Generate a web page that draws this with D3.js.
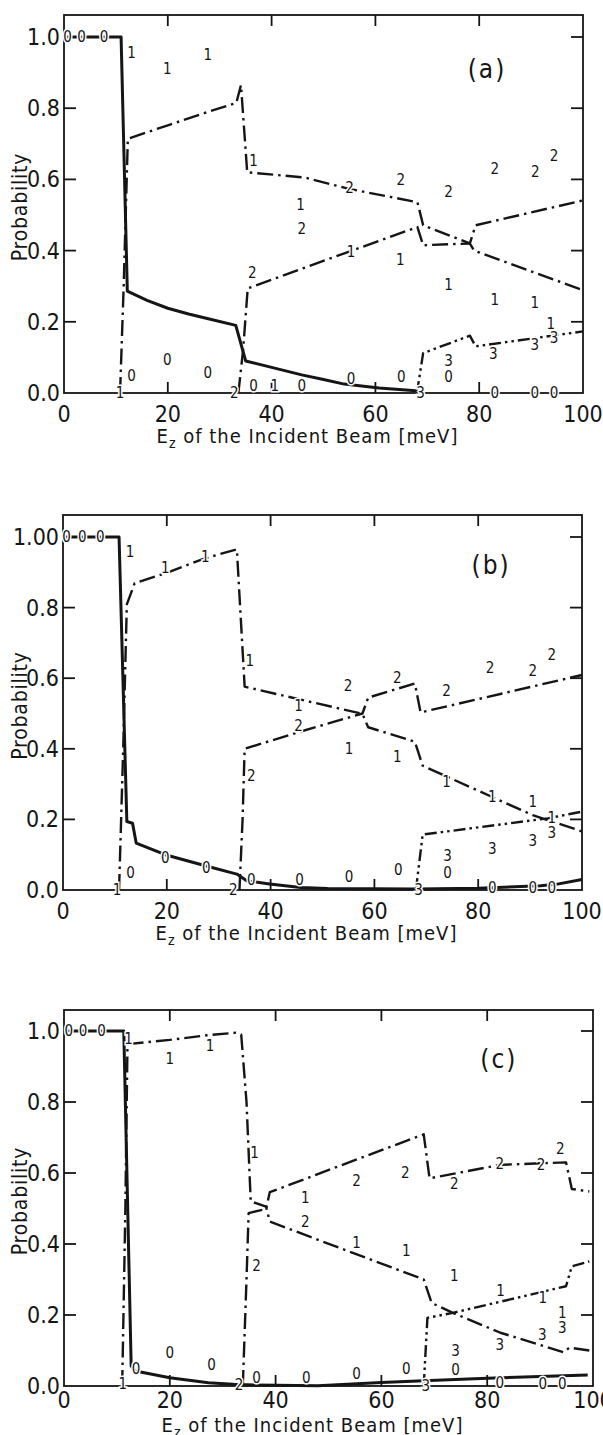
<!DOCTYPE html>
<html><head><meta charset="utf-8">
<script src="https://cdn.jsdelivr.net/npm/d3@7"></script>
<style>
body{margin:0;background:#fff;}
svg{display:block;background:#fff;}
text{font-family:'Liberation Sans Narrow','DejaVu Sans Condensed','Liberation Sans',sans-serif;fill:#151515;}
</style></head><body>
<svg id="chart" width="603" height="1435"></svg>
<script>
// ---------- axis ticks ----------
const xTickValues = [0, 20, 40, 60, 80, 100];
const xTickLabels = ["0", "20", "40", "60", "80", "100"];
const yTickValues = [0, 0.2, 0.4, 0.6, 0.8, 1.0];
const yTickLabelsA = ["0.0", "0.2", "0.4", "0.6", "0.8", "1.0"];
const yTickLabelsB = ["0.0", "0.2", "0.4", "0.6", "0.8", "1.00"];
const yTickLabelsC = ["0.0", "0.2", "0.4", "0.6", "0.8", "1.0"];

// ---------- panel (a): probability curves, [E_z meV, P] ----------
const aChan0 = [[0,1],[11,1],[12.2,0.286],[16,0.26],[20,0.238],[24,0.222],[28,0.208],[33.1,0.19],[35,0.09],[40,0.072],[45.8,0.051],[50,0.038],[54,0.025],[60.7,0.014],[67.8,0.006],[68.5,0.003]];
const aChan1 = [[10.8,0],[11.5,0.3],[12.3,0.714],[20,0.752],[27,0.786],[33.2,0.815],[34.1,0.865],[35.3,0.62],[46.5,0.605],[54.7,0.574],[68.1,0.536],[69.2,0.471],[78.2,0.42],[79,0.40],[100,0.289]];
const aChan2 = [[33.6,0],[34.5,0.12],[35.4,0.294],[54.7,0.396],[68.1,0.466],[69.2,0.415],[78.2,0.42],[79.3,0.471],[100,0.541]];
const aChan3 = [[68,0],[69.2,0.112],[78.2,0.161],[79.3,0.131],[100,0.173]];

// ---------- panel (a): channel-number markers ----------
const aMark0 = [[0.7,1],[3.4,1],[7.7,1],[13,0.047],[19.9,0.093],[27.7,0.056],[36.5,0.02],[45.8,0.02],[55.3,0.039],[65,0.044],[74.1,0.044],[83,0],[90.7,0],[94.4,0]];
const aMark1 = [[10.8,0],[13,0.956],[19.9,0.91],[27.7,0.95],[36.5,0.653],[40.6,0.02],[45.6,0.527],[55.3,0.396],[64.8,0.373],[74.1,0.303],[83,0.261],[90.7,0.252],[93.8,0.195]];
const aMark2 = [[32.8,0],[36.3,0.336],[45.8,0.462],[55,0.576],[64.9,0.597],[74.1,0.564],[83,0.63],[90.8,0.62],[94.4,0.667]];
const aMark3 = [[68.7,0],[74.1,0.089],[82.7,0.109],[90.7,0.135],[94.4,0.154]];

// ---------- panel (b): probability curves ----------
const bChan0 = [[0,1],[10.8,1],[12.3,0.194],[13.4,0.189],[14.1,0.133],[19.7,0.1],[27.6,0.068],[33.5,0.045],[35.4,0.026],[39.8,0.017],[45.8,0.007],[51,0.004],[68,0.003],[80,0.005],[92,0.012],[95,0.016],[100,0.03]];
const bChan1 = [[10.8,0],[11.6,0.4],[12.3,0.809],[13.8,0.869],[19.7,0.897],[27.2,0.939],[33.5,0.965],[35,0.576],[57.7,0.499],[58.8,0.461],[67.8,0.42],[69.3,0.352],[90.5,0.212],[100,0.166]];
const bChan2 = [[34,0],[34.6,0.2],[35,0.40],[45.8,0.449],[57.7,0.50],[58.8,0.545],[67.8,0.585],[68.9,0.503],[100,0.609]];
const bChan3 = [[68,0],[69.3,0.157],[93.4,0.203],[100,0.222]];

// ---------- panel (b): channel-number markers ----------
const bMark0 = [[0.7,1],[3.7,1],[7.2,1],[13,0.049],[19.7,0.091],[27.6,0.062],[36.3,0.028],[45.6,0.029],[55.1,0.038],[64.6,0.056],[74.1,0.049],[82.7,0.007],[90.5,0.006],[94.2,0.006]];
const bMark1 = [[10.4,0],[12.9,0.958],[19.7,0.911],[27.4,0.944],[36,0.65],[45.4,0.52],[55.1,0.399],[64.4,0.376],[73.9,0.306],[82.7,0.264],[90.5,0.25],[94.2,0.205]];
const bMark2 = [[32.8,0],[36.3,0.324],[45.4,0.464],[54.9,0.579],[64.4,0.6],[73.9,0.565],[82.3,0.63],[90.5,0.619],[94.2,0.666]];
const bMark3 = [[68.5,0],[74.1,0.096],[82.7,0.115],[90.5,0.138],[94.2,0.162]];

// ---------- panel (c): probability curves ----------
const cChan0 = [[0,1],[11.3,1],[12.7,0.056],[13.5,0.042],[20,0.023],[27.3,0.009],[32.7,0.004],[40,0.002],[48,0.001],[60,0.01],[68,0.015],[80,0.022],[99,0.031]];
const cChan1 = [[11,0],[11.6,0.5],[12,0.963],[20,0.975],[27,0.988],[32.4,0.995],[33.5,0.99],[34.5,0.80],[35.3,0.52],[38.2,0.505],[38.9,0.463],[68,0.3],[69.5,0.234],[73.5,0.206],[82.5,0.15],[94.5,0.095],[95.5,0.108],[99.3,0.1]];
const cChan2 = [[33.8,0],[34.5,0.3],[34.9,0.487],[38.2,0.499],[38.9,0.546],[68,0.709],[69.1,0.585],[82.5,0.623],[94.9,0.63],[96,0.555],[99.3,0.548]];
const cChan3 = [[68,0],[68.7,0.192],[73.5,0.206],[94.9,0.281],[96,0.337],[99.3,0.351]];

// ---------- panel (c): channel-number markers ----------
const cMark0 = [[0.9,1],[3.6,1],[7.1,1],[13.6,0.047],[20,0.094],[27.9,0.059],[36.4,0.023],[45.8,0.022],[55.3,0.035],[64.7,0.049],[74,0.044],[82.4,0.009],[90.5,0.007],[94.2,0.007]];
const cMark1 = [[11.1,0.005],[12.2,0.978],[20,0.922],[27.6,0.958],[36,0.655],[45.6,0.529],[55.3,0.403],[64.7,0.379],[73.8,0.309],[82.5,0.267],[90.5,0.248],[94.2,0.205]];
const cMark2 = [[33.1,0.003],[36.4,0.337],[45.6,0.463],[55.3,0.578],[64.5,0.599],[73.8,0.568],[82.4,0.625],[90.2,0.623],[93.8,0.669]];
const cMark3 = [[68.4,0],[74,0.098],[82.4,0.115],[90.4,0.145],[94.2,0.162]];

// ---------- drawing ----------
const svg = d3.select("#chart");
svg.append("rect").attr("width", 603).attr("height", 1435).attr("fill", "#fff");

const panels = [
  { tag: "(a)", tagAt: [81.5, 0.885], left: 64, right: 583, top: 15, bottom: 393, yOne: 37,
    tickLabelGap: 29, titleGap: 50,
    yLabels: yTickLabelsA,
    curves: [aChan0, aChan1, aChan2, aChan3],
    marks: [aMark0, aMark1, aMark2, aMark3] },
  { tag: "(b)", tagAt: [82.5, 0.895], left: 63, right: 582, top: 515, bottom: 890, yOne: 537,
    tickLabelGap: 29, titleGap: 50,
    yLabels: yTickLabelsB,
    curves: [bChan0, bChan1, bChan2, bChan3],
    marks: [bMark0, bMark1, bMark2, bMark3] },
  { tag: "(c)", tagAt: [82.2, 0.895], left: 64, right: 593, top: 1010, bottom: 1386, yOne: 1031,
    tickLabelGap: 22, titleGap: 46,
    yLabels: yTickLabelsC,
    curves: [cChan0, cChan1, cChan2, cChan3],
    marks: [cMark0, cMark1, cMark2, cMark3] }
];

const curveStyles = [
  { width: 3, dash: null },
  { width: 2.4, dash: "16,5,2.5,5" },
  { width: 2.4, dash: "16,5,2.5,5" },
  { width: 2.4, dash: "12,4,2.5,4,2.5,4" }
];

panels.forEach(p => {
  const x = d3.scaleLinear().domain([0, 100]).range([p.left, p.right]);
  const y = d3.scaleLinear().domain([0, 1]).range([p.bottom, p.yOne]);
  const g = svg.append("g");

  // frame
  g.append("rect")
    .attr("x", p.left).attr("y", p.top)
    .attr("width", p.right - p.left).attr("height", p.bottom - p.top)
    .attr("fill", "none").attr("stroke", "#151515").attr("stroke-width", 1.8);

  // inward ticks on all four sides
  const inner = [20, 40, 60, 80];
  inner.forEach(v => {
    g.append("line").attr("x1", x(v)).attr("x2", x(v)).attr("y1", p.top).attr("y2", p.top + 11)
      .attr("stroke", "#151515").attr("stroke-width", 1.8);
    g.append("line").attr("x1", x(v)).attr("x2", x(v)).attr("y1", p.bottom).attr("y2", p.bottom - 11)
      .attr("stroke", "#151515").attr("stroke-width", 1.8);
  });
  yTickValues.slice(1).forEach(v => {
    g.append("line").attr("x1", p.left).attr("x2", p.left + 12).attr("y1", y(v)).attr("y2", y(v))
      .attr("stroke", "#151515").attr("stroke-width", 1.8);
    g.append("line").attr("x1", p.right).attr("x2", p.right - 12).attr("y1", y(v)).attr("y2", y(v))
      .attr("stroke", "#151515").attr("stroke-width", 1.8);
  });

  // tick labels
  g.selectAll(".xl").data(xTickValues).enter().append("text")
    .attr("x", d => x(d)).attr("y", p.bottom + p.tickLabelGap)
    .attr("text-anchor", "middle").attr("font-size", 23)
    .text((d, i) => xTickLabels[i]);
  g.selectAll(".yl").data(yTickValues).enter().append("text")
    .attr("x", p.left - 4).attr("y", d => y(d) + 8)
    .attr("text-anchor", "end").attr("font-size", 23)
    .text((d, i) => p.yLabels[i]);

  // axis titles
  const xt = g.append("text")
    .attr("x", (p.left + p.right) / 2 - 16).attr("y", p.bottom + p.titleGap)
    .attr("text-anchor", "middle").attr("font-size", 20).attr("letter-spacing", 1);
  xt.append("tspan").text("E");
  xt.append("tspan").attr("dy", 5).attr("font-size", 14).text("z");
  xt.append("tspan").attr("dy", -5).text(" of  the  Incident  Beam  [meV]");

  g.append("text")
    .attr("transform", `translate(27,${(p.top + p.bottom) / 2 + 3}) rotate(-90)`)
    .attr("text-anchor", "middle").attr("font-size", 21).attr("letter-spacing", 0.8)
    .text("Probability");

  // curves
  p.curves.forEach((c, i) => {
    const line = d3.line().x(d => x(d[0])).y(d => y(d[1]));
    g.append("path").datum(c).attr("d", line)
      .attr("fill", "none").attr("stroke", "#151515")
      .attr("stroke-width", curveStyles[i].width)
      .attr("stroke-dasharray", curveStyles[i].dash)
      .attr("stroke-linejoin", "round");
  });

  // channel-number markers
  p.marks.forEach((m, ch) => {
    g.selectAll(".m" + ch).data(m).enter().append("text")
      .attr("x", d => x(d[0])).attr("y", d => y(d[1]) + 5)
      .attr("text-anchor", "middle").attr("font-size", 15)
      .attr("stroke", "#fff").attr("stroke-width", 3).attr("paint-order", "stroke")
      .text(String(ch));
  });

  // panel tag
  g.append("text").attr("x", x(p.tagAt[0])).attr("y", y(p.tagAt[1]))
    .attr("text-anchor", "middle").attr("font-size", 26).attr("letter-spacing", 2)
    .text(p.tag);
});
</script>
</body></html>
